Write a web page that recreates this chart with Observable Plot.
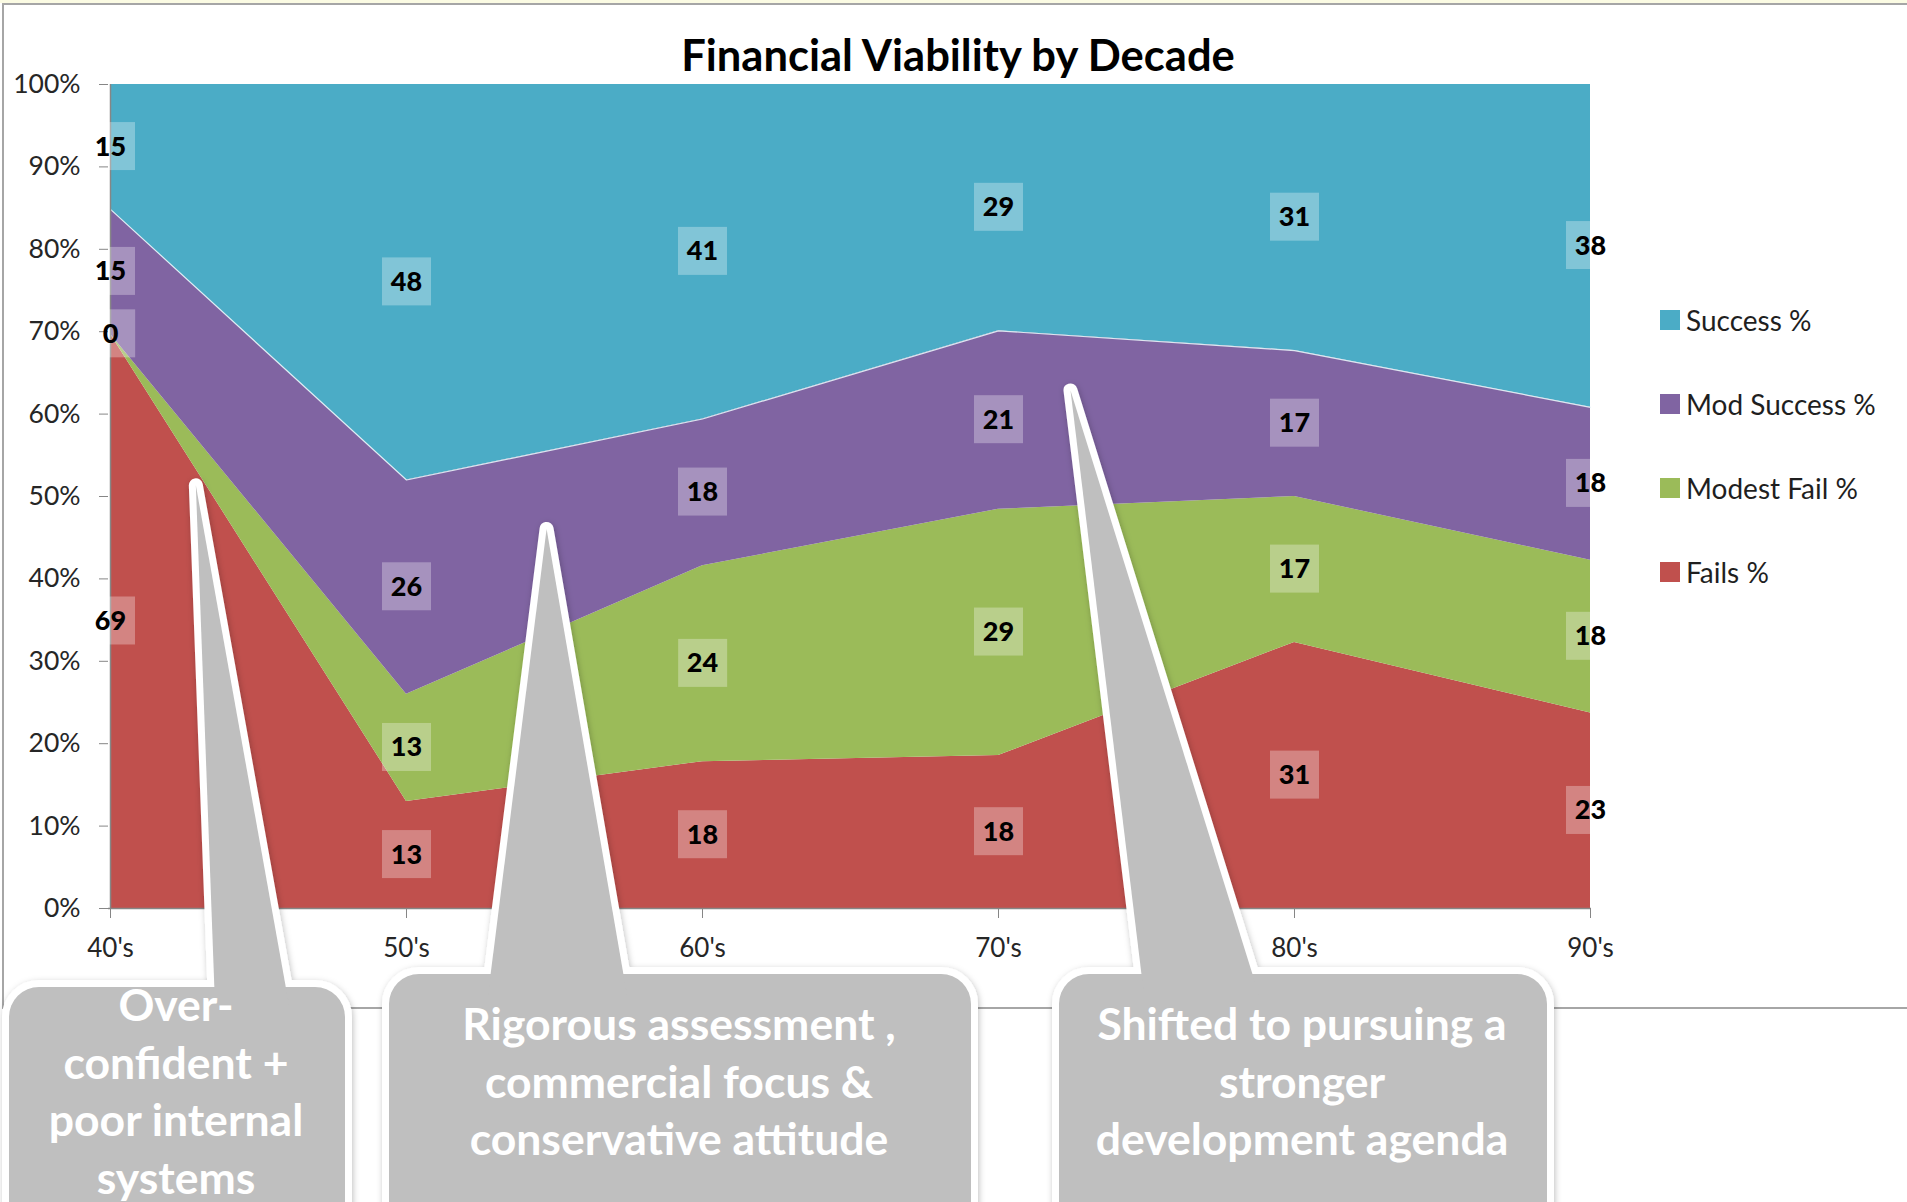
<!DOCTYPE html>
<html>
<head>
<meta charset="utf-8">
<script src="https://cdn.jsdelivr.net/npm/d3@7"></script>
<script src="https://cdn.jsdelivr.net/npm/@observablehq/plot@0.6"></script>
<style>
  html, body { margin: 0; padding: 0; background: #ffffff; }
  #page { position: relative; width: 1907px; height: 1202px; overflow: hidden; background: #ffffff; font-family: Lato, "Open Sans", sans-serif; }
  #topstrip { position: absolute; left: 0; top: 0; width: 1907px; height: 3px; background: #fbfbe3; }
  #frame { position: absolute; left: 2px; top: 3px; width: 2100px; height: 1006px; border: 2px solid #a6a6a6; box-sizing: border-box; }
  #chart { position: absolute; left: 0; top: 0; }
  #title { position: absolute; left: 558px; width: 800px; top: 33px; text-align: center; font-weight: 700; font-size: 43.5px; line-height: 43.5px; color: #000; }
  .leg { position: absolute; left: 1660px; height: 30px; display: flex; align-items: center; font-size: 28px; color: #1f1f1f; white-space: nowrap; }
  .leg span.sw { display: inline-block; width: 20px; height: 20px; margin-right: 6px; }
  #overlay { position: absolute; left: 0; top: 0; pointer-events: none; }
</style>
</head>
<body>
<div id="page">
  <div id="topstrip"></div>
  <div id="frame"></div>
  <div id="chart"></div>
  <div id="title">Financial Viability by Decade</div>
  <div id="legend"></div>
</div>
<script>
// ---------- data ----------
const decades = ["40's", "50's", "60's", "70's", "80's", "90's"];
const failsPct = [69, 13, 18, 18, 31, 23];
const modestFailPct = [0, 13, 24, 29, 17, 18];
const modSuccessPct = [15, 26, 18, 21, 17, 18];
const successPct = [15, 48, 41, 29, 31, 38];
// stacking order bottom -> top
const seriesNames = ["Fails %", "Modest Fail %", "Mod Success %", "Success %"];
const seriesColors = ["#C0504D", "#9BBB59", "#8064A2", "#4BACC6"];
const legendOrder = ["Success %", "Mod Success %", "Modest Fail %", "Fails %"];
const yTicks = [0, 0.1, 0.2, 0.3, 0.4, 0.5, 0.6, 0.7, 0.8, 0.9, 1];

// callout annotations (text + anchor in data terms)
const calloutLines = [
  ["Over-", "confident +", "poor internal", "systems"],
  ["Rigorous assessment ,", "commercial focus &", "conservative attitude"],
  ["Shifted to pursuing a", "stronger", "development agenda"]
];
const calloutAnchors = [
  {from: "40's", to: "50's", t: 0.29, y: 0.513},
  {from: "50's", to: "60's", t: 0.475, y: 0.46},
  {from: "70's", to: "80's", t: 0.245, y: 0.628}
];

// ---------- build table ----------
const valuesBySeries = {
  "Fails %": failsPct,
  "Modest Fail %": modestFailPct,
  "Mod Success %": modSuccessPct,
  "Success %": successPct
};
const rows = [];
for (const s of seriesNames) {
  decades.forEach((d, i) => rows.push({decade: d, series: s, value: valuesBySeries[s][i]}));
}

const W = 1907, H = 1010;
const mL = 108, mR = W - 1591, mT = 84, mB = H - 908;

const stackOpts = {x: "decade", y: "value", z: "series", order: seriesNames, offset: "normalize"};

const chart = Plot.plot({
  width: W,
  height: H,
  marginLeft: mL,
  marginRight: mR,
  marginTop: mT,
  marginBottom: mB,
  style: {fontFamily: "Lato, 'Open Sans', sans-serif", background: "transparent", overflow: "visible"},
  x: {type: "point", domain: decades, padding: 0, label: null},
  y: {domain: [0, 1], label: null},
  color: {domain: seriesNames, range: seriesColors},
  marks: [
    Plot.areaY(rows, Plot.stackY({...stackOpts, fill: "series"})),
    Plot.line(rows, Plot.stackY2({...stackOpts, stroke: "#e8f4f8",
      strokeOpacity: d => d.series === "Mod Success %" ? 0.9 : 0, strokeWidth: 1.2})),
    Plot.ruleY([0], {stroke: "#868686", strokeWidth: 1.5}),
    Plot.ruleX([decades[0]], {stroke: "#868686", strokeWidth: 1.5}),
    Plot.axisY({ticks: yTicks, tickFormat: d3.format(".0%"), tickSize: 9, tickPadding: 19,
      stroke: "#868686", fill: "#262626", fontSize: 26.5, label: null}),
    Plot.axisX({tickSize: 10, tickPadding: 20, stroke: "#868686", fill: "#262626", fontSize: 26, label: null}),
    Plot.text(rows, Plot.stackY({...stackOpts, text: d => String(d.value),
      fontWeight: 900, fontSize: 27, fill: "#000"}))
  ]
});
document.getElementById("chart").appendChild(chart);

// ---------- translucent label boxes (clipped to plot area) ----------
const NS = "http://www.w3.org/2000/svg";
const defs = document.createElementNS(NS, "defs");
const cp = document.createElementNS(NS, "clipPath");
cp.setAttribute("id", "plotclip");
const cpr = document.createElementNS(NS, "rect");
cpr.setAttribute("x", mL); cpr.setAttribute("y", mT);
cpr.setAttribute("width", W - mL - mR); cpr.setAttribute("height", H - mT - mB);
cp.appendChild(cpr); defs.appendChild(cp); chart.insertBefore(defs, chart.firstChild);

const textGroups = chart.querySelectorAll('g[aria-label="text"]');
const labelGroup = textGroups[textGroups.length - 1];
const svgRect = chart.getBoundingClientRect();
const boxLayer = document.createElementNS(NS, "g");
boxLayer.setAttribute("clip-path", "url(#plotclip)");
labelGroup.parentNode.insertBefore(boxLayer, labelGroup);
labelGroup.querySelectorAll("text").forEach(t => {
  const bb = t.getBoundingClientRect();
  const cx = bb.left - svgRect.left + bb.width / 2;
  const cy = bb.top - svgRect.top + bb.height / 2 + 1;
  const r = document.createElementNS(NS, "rect");
  r.setAttribute("x", cx - 24.5); r.setAttribute("y", cy - 24);
  r.setAttribute("width", 49); r.setAttribute("height", 48);
  r.setAttribute("fill", "#ffffff"); r.setAttribute("fill-opacity", 0.3);
  boxLayer.appendChild(r);
});

// ---------- legend ----------
const legend = document.getElementById("legend");
const legendTops = [305, 389, 473, 557];
legendOrder.forEach((s, i) => {
  const div = document.createElement("div");
  div.className = "leg";
  div.style.top = legendTops[i] + "px";
  const sw = document.createElement("span");
  sw.className = "sw";
  sw.style.background = seriesColors[seriesNames.indexOf(s)];
  div.appendChild(sw);
  div.appendChild(document.createTextNode(s));
  legend.appendChild(div);
});

// ---------- callouts ----------
const xs = chart.scale("x"), ys = chart.scale("y");
const tips = calloutAnchors.map(a => {
  const x0 = xs.apply(a.from), x1 = xs.apply(a.to);
  return [x0 + a.t * (x1 - x0), ys.apply(a.y)];
});
const boxes = [
  {x: 9, y: 987, w: 336, cx: 176, base: [215, 289], baseY: 1005, first: 1021},
  {x: 389, y: 974, w: 582, cx: 679, base: [488, 627], baseY: 995, first: 1040},
  {x: 1059, y: 974, w: 488, cx: 1302, base: [1144, 1259], baseY: 995, first: 1040}
];
const ov = d3.select("#page").append("svg")
  .attr("id", "overlay").attr("width", 1907).attr("height", 1202);
const f = ov.append("defs").append("filter").attr("id", "sh")
  .attr("x", -0.1).attr("y", -0.1).attr("width", 1.2).attr("height", 1.3);
f.append("feDropShadow").attr("dx", 1).attr("dy", 2).attr("stdDeviation", 3)
  .attr("flood-color", "#000").attr("flood-opacity", 0.25);

function shapes(g, stroke) {
  boxes.forEach((b, i) => {
    const [tx, ty] = tips[i];
    g.append("rect").attr("x", b.x).attr("y", b.y).attr("width", b.w).attr("height", 300)
      .attr("rx", 30).attr("ry", 30)
      .attr("fill", "#BFBFBF").attr("stroke", stroke ? "#ffffff" : "none")
      .attr("stroke-width", 14).attr("stroke-linejoin", "round");
    g.append("path")
      .attr("d", `M${tx},${ty}L${b.base[0]},${b.baseY}L${b.base[1]},${b.baseY}Z`)
      .attr("fill", "#BFBFBF").attr("stroke", stroke ? "#ffffff" : "none")
      .attr("stroke-width", 14).attr("stroke-linejoin", "round");
  });
}
shapes(ov.append("g").attr("filter", "url(#sh)"), true);
shapes(ov.append("g"), false);

const tg = ov.append("g").attr("font-family", "Lato, 'Open Sans', sans-serif")
  .attr("font-weight", 700).attr("font-size", 44.5).attr("fill", "#ffffff").attr("text-anchor", "middle");
boxes.forEach((b, i) => {
  calloutLines[i].forEach((line, j) => {
    tg.append("text").attr("x", b.cx).attr("y", b.first + j * 57.5).text(line);
  });
});
</script>
</body>
</html>
